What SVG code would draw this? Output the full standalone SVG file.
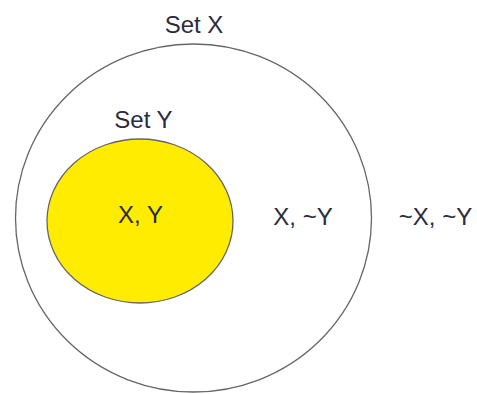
<svg xmlns="http://www.w3.org/2000/svg" width="477" height="394" viewBox="0 0 477 394">
<style>
text{font-family:"Liberation Sans",Arial,sans-serif;font-size:24px;fill:#2b2b40;text-anchor:middle}
.c{stroke:#666;stroke-width:1.3}
</style>
<rect width="477" height="394" fill="#fff"/>
<g id="setX">
<ellipse class="c" cx="193.5" cy="218" rx="178" ry="174" fill="none"/>
<text x="194" y="33">Set X</text>
</g>
<g id="setY">
<ellipse class="c" cx="140" cy="221" rx="93" ry="82" fill="#ffec00"/>
<text x="143.5" y="128">Set Y</text>
<text x="140.5" y="223">X, Y</text>
</g>
<g id="xnoty"><text x="303" y="225">X, ~Y</text></g>
<g id="notxnoty"><text x="435.5" y="225">~X, ~Y</text></g>
<g id="connectors"/>
</svg>
